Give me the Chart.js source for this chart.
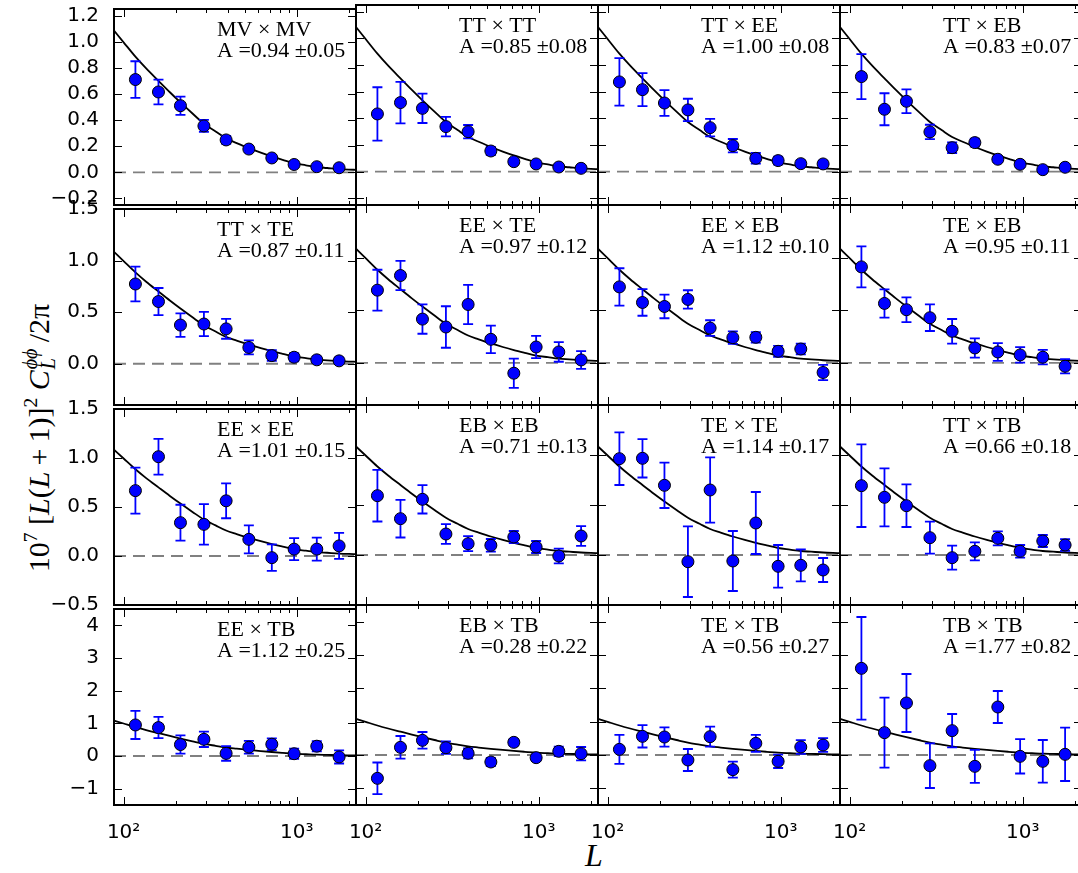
<!DOCTYPE html>
<html>
<head>
<meta charset="utf-8">
<script src="https://cdn.jsdelivr.net/npm/chart.js"></script>
<style>
  html, body { margin: 0; padding: 0; background: #fff; overflow: hidden; }
  #fig { position: relative; width: 1078px; height: 873px; overflow: hidden; }
  #fig canvas { position: absolute; }
  #ylab {
    position: absolute; left: 37px; top: 438px;
    font-family: "Liberation Serif", serif; font-size: 30px; white-space: nowrap;
    transform: translate(-50%, -50%) rotate(-90deg);
  }
  #ylab sup { font-size: 0.65em; vertical-align: 0.6em; line-height: 0; }
  #ylab .sb { display: inline-block; position: relative; width: 28px; height: 30px; vertical-align: baseline; }
  #ylab .sb span { position: absolute; left: 1px; font-size: 20px; line-height: 1; font-style: italic; }
  #ylab .sb .p { top: 1px; }
  #ylab .sb .b { top: 19px; }
  #xlab {
    position: absolute; left: 594px; top: 855px;
    font-family: "Liberation Serif", serif; font-size: 32px; font-style: italic;
    transform: translate(-50%, -50%);
  }
</style>
</head>
<body>
<div id="fig">
  <div id="ylab">10<sup>7</sup> [<i>L</i>(<i>L</i>&#8201;+&#8201;1)]<sup>2</sup> <i>C</i><span class="sb"><span class="p">ϕϕ</span><span class="b">L</span></span>/2π</div>
  <div id="xlab">L</div>
</div>
<script>
// multipole bin centres and axis limits
const ells = [117, 159, 213, 291, 391, 529, 718, 966, 1306, 1757];
const L_MIN = 88;
const L_MAX = 2200;
const xTicks = [100, 200, 300, 400, 500, 600, 700, 800, 900, 1000, 2000];
const xMajor = [100, 1000];

// fiducial lensing spectrum
const theoryL = [88, 100, 117, 135, 159, 185, 213, 250, 291, 340, 391, 450, 529, 620, 718, 830, 966, 1130, 1306, 1500, 1757, 2000, 2200];
const theoryC = [1.085, 0.995, 0.885, 0.795, 0.70, 0.613, 0.535, 0.45, 0.372, 0.312, 0.26, 0.224, 0.185, 0.151, 0.122, 0.096, 0.07, 0.054, 0.04, 0.033, 0.025, 0.021, 0.019];

// y range and ticks per row
const rowMin = [-0.25, -0.4, -0.5, -1.5];
const rowMax = [1.25, 1.5, 1.5, 4.5];
const rowTicks = [
  [-0.2, 0, 0.2, 0.4, 0.6, 0.8, 1.0, 1.2],
  [0, 0.5, 1.0, 1.5],
  [-0.5, 0, 0.5, 1.0, 1.5],
  [-1, 0, 1, 2, 3, 4]
];

// band powers and errors, one pair per estimator
const mv_mv = [0.71, 0.615, 0.51, 0.355, 0.248, 0.178, 0.11, 0.06, 0.043, 0.035];
const mv_mv_err = [0.14, 0.095, 0.07, 0.046, 0.03, 0.02, 0.015, 0.012, 0.01, 0.01];
const tt_tt = [0.433, 0.518, 0.475, 0.338, 0.30, 0.155, 0.075, 0.058, 0.035, 0.025];
const tt_tt_err = [0.2, 0.156, 0.11, 0.073, 0.05, 0.03, 0.02, 0.02, 0.015, 0.015];
const tt_ee = [0.673, 0.615, 0.515, 0.463, 0.33, 0.195, 0.10, 0.083, 0.06, 0.058];
const tt_ee_err = [0.178, 0.124, 0.096, 0.084, 0.066, 0.05, 0.04, 0.03, 0.025, 0.025];
const tt_eb = [0.713, 0.468, 0.528, 0.298, 0.18, 0.218, 0.093, 0.055, 0.015, 0.033];
const tt_eb_err = [0.169, 0.12, 0.089, 0.054, 0.04, 0.03, 0.02, 0.02, 0.015, 0.015];
const tt_te = [0.773, 0.603, 0.375, 0.385, 0.338, 0.158, 0.079, 0.063, 0.038, 0.028];
const tt_te_err = [0.169, 0.131, 0.114, 0.117, 0.096, 0.068, 0.052, 0.04, 0.03, 0.03];
const ee_te = [0.691, 0.830, 0.416, 0.341, 0.555, 0.224, -0.098, 0.151, 0.104, 0.028];
const ee_te_err = [0.194, 0.139, 0.139, 0.197, 0.186, 0.131, 0.139, 0.106, 0.093, 0.084];
const ee_eb = [0.722, 0.574, 0.536, 0.603, 0.331, 0.240, 0.243, 0.110, 0.132, -0.091];
const ee_eb_err = [0.177, 0.126, 0.112, 0.087, 0.074, 0.06, 0.05, 0.052, 0.05, 0.073];
const te_eb = [0.912, 0.565, 0.505, 0.429, 0.300, 0.142, 0.104, 0.076, 0.054, -0.032];
const te_eb_err = [0.194, 0.134, 0.117, 0.126, 0.117, 0.091, 0.084, 0.074, 0.069, 0.068];
const ee_ee = [0.667, 1.013, 0.34, 0.323, 0.563, 0.17, -0.017, 0.07, 0.07, 0.103];
const ee_ee_err = [0.235, 0.183, 0.183, 0.207, 0.178, 0.143, 0.135, 0.112, 0.117, 0.132];
const eb_eb = [0.593, 0.363, 0.557, 0.21, 0.113, 0.097, 0.18, 0.08, -0.01, 0.19];
const eb_eb_err = [0.258, 0.188, 0.142, 0.098, 0.075, 0.063, 0.06, 0.06, 0.073, 0.098];
const te_te = [0.963, 0.967, 0.697, -0.067, 0.65, -0.06, 0.32, -0.113, -0.103, -0.15];
const te_te_err = [0.263, 0.192, 0.227, 0.353, 0.327, 0.3, 0.31, 0.213, 0.16, 0.12];
const tt_tb = [0.693, 0.577, 0.493, 0.173, -0.027, 0.037, 0.167, 0.037, 0.14, 0.10];
const tt_tb_err = [0.413, 0.29, 0.213, 0.16, 0.12, 0.09, 0.07, 0.063, 0.06, 0.058];
const ee_tb = [0.95, 0.87, 0.35, 0.51, 0.08, 0.27, 0.36, 0.07, 0.30, -0.03];
const ee_tb_err = [0.43, 0.325, 0.28, 0.235, 0.225, 0.195, 0.18, 0.155, 0.155, 0.2];
const eb_tb = [-0.70, 0.23, 0.44, 0.22, 0.05, -0.21, 0.38, -0.08, 0.11, 0.04];
const eb_tb_err = [0.475, 0.34, 0.25, 0.185, 0.15, 0.12, 0.1, 0.1, 0.14, 0.2];
const te_tb = [0.17, 0.56, 0.54, -0.15, 0.55, -0.44, 0.35, -0.19, 0.24, 0.30];
const te_tb_err = [0.435, 0.335, 0.29, 0.33, 0.3, 0.24, 0.255, 0.2, 0.205, 0.205];
const tb_tb = [2.60, 0.67, 1.56, -0.32, 0.73, -0.34, 1.44, -0.04, -0.19, 0.02];
const tb_tb_err = [1.54, 1.05, 0.87, 0.67, 0.5, 0.495, 0.48, 0.515, 0.64, 0.8];

const names = ['MV × MV', 'TT × TT', 'TT × EE', 'TT × EB',
               'TT × TE', 'EE × TE', 'EE × EB', 'TE × EB',
               'EE × EE', 'EB × EB', 'TE × TE', 'TT × TB',
               'EE × TB', 'EB × TB', 'TE × TB', 'TB × TB'];
const amps = ['0.94 ±0.05', '0.85 ±0.08', '1.00 ±0.08', '0.83 ±0.07',
              '0.87 ±0.11', '0.97 ±0.12', '1.12 ±0.10', '0.95 ±0.11',
              '1.01 ±0.15', '0.71 ±0.13', '1.14 ±0.17', '0.66 ±0.18',
              '1.12 ±0.25', '0.28 ±0.22', '0.56 ±0.27', '1.77 ±0.82'];
const bands = [mv_mv, tt_tt, tt_ee, tt_eb, tt_te, ee_te, ee_eb, te_eb,
               ee_ee, eb_eb, te_te, tt_tb, ee_tb, eb_tb, te_tb, tb_tb];
const bandErrs = [mv_mv_err, tt_tt_err, tt_ee_err, tt_eb_err, tt_te_err, ee_te_err, ee_eb_err, te_eb_err,
                  ee_ee_err, eb_eb_err, te_te_err, tt_tb_err, ee_tb_err, eb_tb_err, te_tb_err, tb_tb_err];

// panel placement
const colLeft = [114, 356, 598, 840];
const rowTop = [5, 205, 405, 605];
const PW = 242, PH = 200;
const PAD_L = 10, AX_W = 100, PAD_R = 10, PAD_T = 15, AX_H = 50, PAD_B = 5;

const minus = s => s.replace('-', '\u2212');

// error bars under the markers
const errorBars = {
  id: 'errorBars',
  beforeDatasetDraw(chart, args) {
    if (args.index !== 0) return;
    const ds = chart.data.datasets[0];
    const xs = chart.scales.x, ys = chart.scales.y, a = chart.chartArea;
    const ctx = chart.ctx;
    ctx.save();
    ctx.beginPath();
    ctx.rect(a.left, a.top, a.width, a.height);
    ctx.clip();
    ctx.strokeStyle = '#0000ff';
    ctx.lineWidth = 1.8;
    ds.data.forEach((p, i) => {
      const e = ds.errs[i];
      const x = xs.getPixelForValue(p.x);
      const y1 = ys.getPixelForValue(p.y - e);
      const y2 = ys.getPixelForValue(p.y + e);
      ctx.beginPath();
      ctx.moveTo(x, y1); ctx.lineTo(x, y2);
      ctx.moveTo(x - 5, y1); ctx.lineTo(x + 5, y1);
      ctx.moveTo(x - 5, y2); ctx.lineTo(x + 5, y2);
      ctx.stroke();
    });
    ctx.restore();
  }
};

// inward ticks on all sides, frame and the panel caption
const frame = {
  id: 'frame',
  afterDraw(chart, args, opts) {
    const ctx = chart.ctx, a = chart.chartArea;
    const xs = chart.scales.x, ys = chart.scales.y;
    ctx.save();
    ctx.strokeStyle = '#000';
    ctx.lineWidth = 1;
    xs.ticks.forEach(t => {
      const x = Math.round(xs.getPixelForValue(t.value)) + 0.5;
      const len = t.major ? 8 : 4;
      ctx.beginPath();
      ctx.moveTo(x, a.top); ctx.lineTo(x, a.top + len);
      ctx.moveTo(x, a.bottom); ctx.lineTo(x, a.bottom - len);
      ctx.stroke();
    });
    ys.ticks.forEach(t => {
      const y = Math.round(ys.getPixelForValue(t.value)) + 0.5;
      ctx.beginPath();
      ctx.moveTo(a.left, y); ctx.lineTo(a.left + 8, y);
      ctx.moveTo(a.right, y); ctx.lineTo(a.right - 8, y);
      ctx.stroke();
    });
    ctx.lineWidth = 2;
    ctx.strokeRect(a.left, a.top, a.width, a.height);
    ctx.fillStyle = '#000';
    ctx.font = '22px "Liberation Serif"';
    ctx.textAlign = 'left';
    ctx.textBaseline = 'alphabetic';
    ctx.fillText(opts.name, a.left + 103, a.top + 27);
    ctx.fillText('A =' + opts.amp, a.left + 103, a.top + 48);
    ctx.restore();
  }
};

const fig = document.getElementById('fig');

for (let k = 0; k < 16; k++) {
  const r = Math.floor(k / 4), c = k % 4;
  const cv = document.createElement('canvas');
  cv.width = PAD_L + AX_W + PW + PAD_R;
  cv.height = PAD_T + PH + AX_H + PAD_B;
  cv.style.left = (colLeft[c] - PAD_L - AX_W) + 'px';
  cv.style.top = (rowTop[r] - PAD_T) + 'px';
  fig.appendChild(cv);

  new Chart(cv, {
    type: 'scatter',
    data: {
      datasets: [
        {
          data: ells.map((l, i) => ({x: l, y: bands[k][i]})),
          errs: bandErrs[k],
          backgroundColor: '#0000ff',
          borderColor: '#000',
          borderWidth: 1,
          pointRadius: 6,
          order: 0
        },
        {
          type: 'line',
          data: theoryL.map((l, i) => ({x: l, y: theoryC[i]})),
          borderColor: '#000',
          borderWidth: 1.8,
          pointRadius: 0,
          cubicInterpolationMode: 'monotone',
          fill: false,
          order: 1
        },
        {
          type: 'line',
          data: [{x: L_MIN, y: 0}, {x: L_MAX, y: 0}],
          borderColor: '#808080',
          borderWidth: 1.8,
          borderDash: [12, 7],
          pointRadius: 0,
          fill: false,
          order: 2
        }
      ]
    },
    options: {
      responsive: false,
      animation: false,
      events: [],
      layout: {padding: {left: PAD_L, right: PAD_R, top: PAD_T, bottom: PAD_B}},
      plugins: {
        legend: {display: false},
        tooltip: {enabled: false},
        frame: {name: names[k], amp: amps[k]}
      },
      scales: {
        x: {
          type: 'logarithmic',
          min: L_MIN,
          max: L_MAX,
          afterBuildTicks: s => { s.ticks = xTicks.map(v => ({value: v, major: xMajor.includes(v)})); },
          afterFit: s => { s.height = AX_H; },
          grid: {display: false},
          border: {display: false},
          ticks: {
            display: r === 3,
            autoSkip: false,
            maxRotation: 0,
            padding: 8,
            color: '#000',
            font: {family: 'DejaVu Sans', size: 20},
            callback: v => v === 100 ? '10\u00b2' : (v === 1000 ? '10\u00b3' : '')
          }
        },
        y: {
          min: rowMin[r],
          max: rowMax[r],
          afterBuildTicks: s => { s.ticks = rowTicks[r].map(v => ({value: v})); },
          afterFit: s => { s.width = AX_W; },
          grid: {display: false},
          border: {display: false},
          ticks: {
            display: c === 0,
            padding: 7,
            color: '#000',
            font: {family: 'DejaVu Sans', size: 20},
            callback: v => minus(r === 3 ? String(v) : v.toFixed(1))
          }
        }
      }
    },
    plugins: [errorBars, frame]
  });
}
</script>
</body>
</html>
